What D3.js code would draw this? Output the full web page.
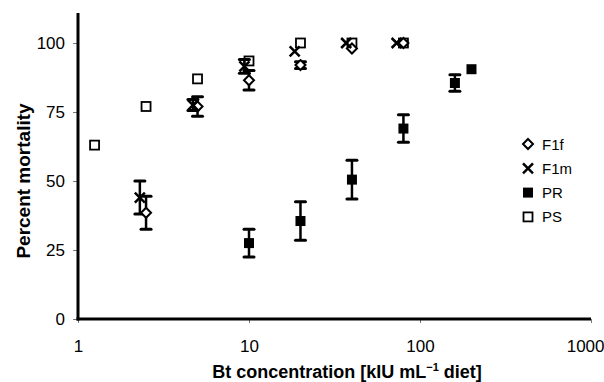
<!DOCTYPE html>
<html><head><meta charset="utf-8">
<script src="https://cdn.jsdelivr.net/npm/d3@7"></script>
<style>
body{margin:0;background:#fff;}
text{font-family:"Liberation Sans",Arial,sans-serif;}
</style></head>
<body><svg id="c" width="604" height="382"></svg>
<script>
// Data
const seriesNames = ["F1f", "F1m", "PR", "PS"];
const f1fDose = [2.5, 5, 10, 20, 40, 80];
const f1fMort = [38.5, 77, 86.5, 92, 98, 100];
const f1fErr  = [6, 3.5, 3.5, 1.2, 0, 0];
const f1mDose = [2.3, 4.7, 9.4, 18.5, 37, 73];
const f1mMort = [44, 77.5, 91.5, 97, 100, 100];
const f1mErr  = [6, 2, 2.5, 0, 0, 0];
const prDose = [10, 20, 40, 80, 160, 200];
const prMort = [27.5, 35.5, 50.5, 69, 85.5, 90.5];
const prErr  = [5, 7, 7, 5, 3, 0];
const psDose = [1.25, 2.5, 5, 10, 20, 40, 80];
const psMort = [63, 77, 87, 93.5, 100, 100, 100];
const yTicks = [0, 25, 50, 75, 100];
const xTicks = [1, 10, 100, 1000];

const svg = d3.select("#c");
const x = d3.scaleLog().domain([1, 1000]).range([78, 591]);
const y = d3.scaleLinear().domain([0, 110]).range([319, 15.4]);

// axes
const xAxis = svg.append("g").attr("transform", "translate(0,319)")
  .call(d3.axisBottom(x).tickValues(xTicks).tickFormat(d3.format("d")).tickSizeOuter(0).tickSizeInner(4).tickPadding(17));
xAxis.select(".domain").remove();
xAxis.selectAll(".tick line").attr("stroke", "#777").attr("stroke-width", 1);
xAxis.selectAll(".tick text").attr("font-size", 17).attr("fill", "#000")
  .filter(d => d === 1000).attr("text-anchor", "end").attr("dx", 13);

const yAxis = svg.append("g").attr("transform", "translate(78,0)")
  .call(d3.axisLeft(y).tickValues(yTicks).tickSizeOuter(0).tickSizeInner(5).tickPadding(8));
yAxis.select(".domain").remove();
yAxis.selectAll(".tick line").attr("stroke", "#777").attr("stroke-width", 1);
yAxis.selectAll(".tick text").attr("font-size", 17).attr("fill", "#000");

svg.append("line").attr("x1", 78).attr("x2", 78).attr("y1", 13).attr("y2", 320.5)
  .attr("stroke", "#000").attr("stroke-width", 3);
svg.append("line").attr("x1", 76.5).attr("x2", 591).attr("y1", 319).attr("y2", 319)
  .attr("stroke", "#000").attr("stroke-width", 3);

// titles
svg.append("text").attr("x", 347).attr("y", 378).attr("text-anchor", "middle")
  .attr("font-size", 18).attr("font-weight", "bold")
  .html('Bt concentration [kIU mL<tspan dy="-7" font-size="11">−1</tspan><tspan dy="7"> diet]</tspan>');
svg.append("text").attr("transform", "translate(30,181) rotate(-90)").attr("text-anchor", "middle")
  .attr("font-size", 19).attr("font-weight", "bold").text("Percent mortality");

const plot = svg.append("g");

function errBars(dose, mort, err) {
  dose.forEach((d, i) => {
    if (!err[i]) return;
    const cx = x(d), y1 = y(mort[i] + err[i]), y2 = y(mort[i] - err[i]);
    plot.append("line").attr("x1", cx).attr("x2", cx).attr("y1", y1).attr("y2", y2)
      .attr("stroke", "#000").attr("stroke-width", 2.5);
    [y1, y2].forEach(yy => plot.append("line").attr("x1", cx - 5).attr("x2", cx + 5)
      .attr("y1", yy).attr("y2", yy).attr("stroke", "#000").attr("stroke-width", 3).attr("stroke-linecap", "round"));
  });
}
errBars(prDose, prMort, prErr);
errBars(f1mDose, f1mMort, f1mErr);
errBars(f1fDose, f1fMort, f1fErr);

function diamond(g, cx, cy) {
  g.append("path").attr("d", `M${cx},${cy-5}L${cx+5},${cy}L${cx},${cy+5}L${cx-5},${cy}Z`)
    .attr("fill", "#fff").attr("stroke", "#000").attr("stroke-width", 2);
}
function cross(g, cx, cy) {
  g.append("path").attr("d", `M${cx-5},${cy-5}L${cx+5},${cy+5}M${cx+5},${cy-5}L${cx-5},${cy+5}`)
    .attr("stroke", "#000").attr("stroke-width", 2.5);
}
function filled(g, cx, cy) {
  g.append("rect").attr("x", cx - 5).attr("y", cy - 5).attr("width", 10).attr("height", 10).attr("fill", "#000");
}
function open(g, cx, cy) {
  g.append("rect").attr("x", cx - 4.5).attr("y", cy - 4.5).attr("width", 9).attr("height", 9)
    .attr("fill", "none").attr("stroke", "#000").attr("stroke-width", 1.8);
}

prDose.forEach((d, i) => filled(plot, x(d), y(prMort[i])));
psDose.forEach((d, i) => open(plot, x(d), y(psMort[i])));
f1fDose.forEach((d, i) => diamond(plot, x(d), y(f1fMort[i])));
f1mDose.forEach((d, i) => cross(plot, x(d), y(f1mMort[i])));

// legend
const markers = [diamond, cross, filled, open];
const leg = svg.append("g");
seriesNames.forEach((n, i) => {
  const cy = 144 + i * 24.3;
  markers[i](leg, 528, cy);
  leg.append("text").attr("x", 542).attr("y", cy + 5.5).attr("font-size", 15).text(n);
});
</script></body></html>
